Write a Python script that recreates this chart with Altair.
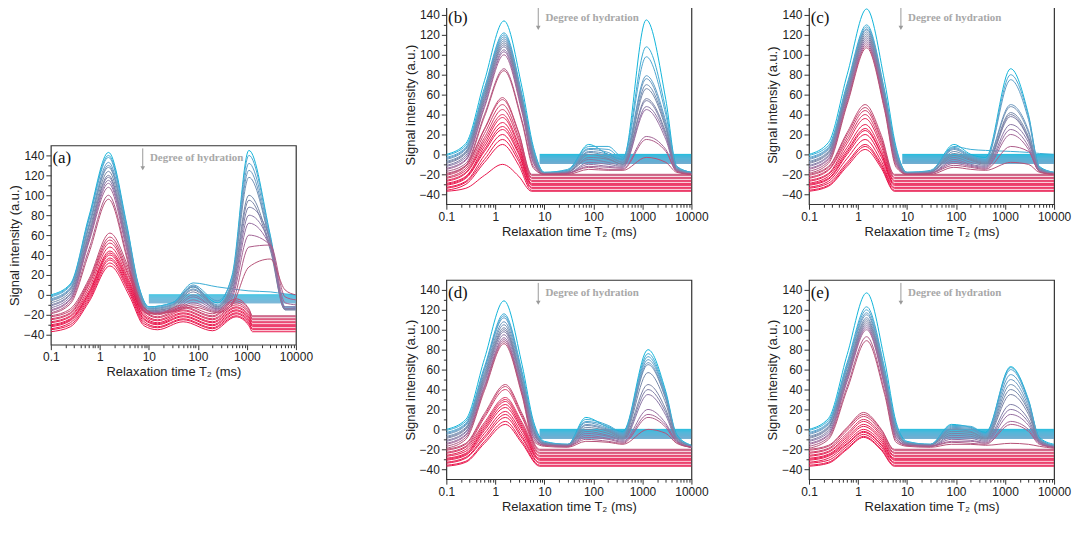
import altair as alt
import pandas as pd

CYAN, BLUEGREY, MAUVE, RED = "#12b5da", "#7886a3", "#b65277", "#e8154b"

# ---- panel (a) ----
T2_UP_A = [0.1, 0.25, 0.6, 1.5, 3.5, 6, 10, 30, 80, 250, 500, 1100, 3000, 6000, 10000]
UP_A = [
    [0, 11, 79, 143, 72, 12, -12, -8, 8, -8, 20, 145, 60, -12, -12],
    [-1, 10, 77, 140, 70, 11, -12, -8, 12, 8, 6, 4, 3, 1, 0],
    [-2, 9, 75, 138, 68, 10, -13, -9, 10, -6, 18, 140, 58, -13, -13],
    [-4, 7, 71, 133, 65, 8, -14, -10, 6, -10, 15, 132, 55, -14, -14],
    [-5, 6, 69, 130, 63, 7, -14, -10, 9, -11, 14, 125, 52, -14, -14],
    [-6, 5, 68, 128, 62, 6, -15, -11, 8, -12, 12, 118, 52, -14, -14],
    [-8, 3, 64, 124, 58, 4, -16, -12, 5, -12, 10, 100, 48, -15, -15],
    [-10, 1, 61, 120, 55, 2, -16, -13, 3, -13, 8, 95, 45, -15, -15],
    [-11, 0, 60, 118, 54, 1, -17, -14, 0, -14, 5, 88, 55, -14, -14],
    [-13, -2, 57, 115, 51, -1, -17, -15, -2, -14, 3, 80, 50, -14, -13],
    [-15, -4, 55, 112, 49, -3, -18, -16, -5, -15, 0, 72, 48, -12, -12],
    [-16, -5, 53, 108, 46, -5, -18, -16, -8, -16, -3, 60, 50, -8, -10],
    [-18, -7, 46, 100, 41, -7, -19, -17, -10, -17, -8, 48, 50, -2, -5],
    [-19, -9, 42, 96, 38, -9, -19, -17, -12, -18, -10, 28, 36, 5, 0],
]
T2_LOW_A = [0.1, 0.25, 0.6, 1.6, 4, 8, 15, 50, 200, 600, 1100, 1300, 10000]
LOW_A = [
    [-21, -14, 16, 62, 25, -13, -19, -10, -19, -4, -14, -21, -21],
    [-22, -16, 14, 58, 22, -14, -20, -12, -21, -6, -15, -22, -22],
    [-24, -18, 12, 55, 19, -16, -22, -13, -22, -8, -17, -24, -24],
    [-25, -19, 10, 52, 17, -17, -23, -15, -24, -10, -18, -25, -25],
    [-27, -21, 7, 48, 14, -19, -25, -16, -25, -12, -20, -27, -27],
    [-28, -22, 4, 44, 12, -21, -26, -18, -27, -13, -22, -28, -28],
    [-30, -24, 2, 42, 10, -22, -28, -19, -28, -15, -23, -30, -30],
    [-31, -25, 1, 40, 8, -24, -29, -21, -30, -16, -25, -31, -31],
    [-32, -26, -1, 37, 6, -25, -30, -22, -31, -18, -26, -32, -32],
    [-34, -28, -3, 35, 4, -27, -32, -24, -33, -19, -28, -34, -34],
    [-35, -30, -5, 32, 2, -29, -33, -25, -34, -21, -29, -35, -35],
    [-37, -32, -7, 29, -1, -31, -35, -27, -36, -22, -31, -37, -37],
]
T2_FLAT_A = [10, 10000]
FLAT_A = [0, -1, -2, -3, -4, -5, -6, -7, -8]

# ---- panel (b) ----
T2_UP_B = [0.1, 0.25, 0.6, 1.5, 3.5, 6, 10, 30, 80, 200, 400, 1200, 3000, 5000, 10000]
UP_B = [
    [0, 11, 74, 134, 67, 7, -18, -16, 10, 0, -5, 135, 55, -12, -18],
    [-1, 9, 67, 122, 60, 5, -18, -15, 8, 8, -3, 108, 45, -12, -18],
    [-3, 7, 65, 120, 58, 3, -19, -16, 6, 5, -5, 98, 40, -13, -18],
    [-4, 6, 63, 118, 57, 2, -19, -17, 5, 2, -6, 79, 33, -13, -19],
    [-5, 5, 62, 116, 55, 1, -19, -17, 3, 0, -8, 76, 30, -14, -19],
    [-7, 3, 60, 114, 53, -1, -19, -18, 2, -2, -8, 70, 28, -14, -19],
    [-8, 2, 58, 112, 52, -2, -19, -18, 0, -4, -10, 66, 26, -15, -19],
    [-9, 1, 56, 110, 50, -3, -20, -18, -3, -5, -10, 56, 22, -15, -20],
    [-11, -1, 54, 108, 48, -5, -20, -18, -5, -8, -11, 54, 20, -16, -20],
    [-12, -3, 52, 105, 46, -6, -20, -19, -8, -10, -12, 48, 18, -16, -20],
    [-14, -5, 49, 103, 44, -8, -20, -19, -10, -12, -13, 45, 15, -16, -20],
    [-15, -6, 47, 100, 42, -9, -20, -19, -12, -13, -14, 18, 5, -17, -20],
    [-17, -9, 40, 86, 34, -12, -20, -19, -13, -15, -15, 15, 3, -17, -20],
    [-19, -11, 38, 84, 32, -14, -20, -20, -15, -16, -16, -3, -8, -18, -20],
]
T2_LOW_B = [0.1, 0.25, 0.6, 1.4, 3, 5.5, 10000]
LOW_B = [
    [-20, -11, 26, 57, 22, -20, -20],
    [-21, -12, 25, 55, 21, -21, -21],
    [-23, -14, 21, 50, 17, -23, -23],
    [-24, -16, 17, 45, 14, -24, -24],
    [-26, -18, 14, 40, 10, -26, -26],
    [-27, -19, 11, 37, 8, -27, -27],
    [-29, -22, 8, 32, 5, -29, -29],
    [-30, -23, 5, 28, 2, -30, -30],
    [-31, -24, 3, 25, 0, -31, -31],
    [-33, -27, -1, 20, -4, -33, -33],
    [-34, -28, -5, 15, -7, -34, -34],
    [-36, -30, -8, 10, -11, -36, -36],
    [-37, -34, -21, -10, -22, -37, -37],
]
T2_FLAT_B = [8, 10000]
FLAT_B = [0, -1, -2, -3, -4, -5, -6, -7, -8, -9]

# ---- panel (c) ----
T2_UP_C = [0.1, 0.25, 0.6, 1.5, 3.5, 6, 10, 30, 90, 200, 400, 1300, 3000, 5000, 10000]
UP_C = [
    [0, 12, 80, 146, 73, 7, -18, -17, 10, 0, -3, 86, 40, -12, -18],
    [-1, 9, 71, 130, 64, 5, -18, -16, 8, 5, 4, 3, 2, 1, 0],
    [-3, 7, 69, 128, 62, 3, -18, -17, 7, -1, -5, 80, 38, -13, -18],
    [-4, 6, 68, 126, 61, 2, -19, -17, 6, -2, -6, 75, 35, -13, -19],
    [-5, 5, 66, 125, 60, 1, -19, -17, 5, -3, -7, 50, 24, -14, -19],
    [-7, 3, 65, 123, 58, -1, -19, -18, 3, -4, -8, 48, 22, -14, -19],
    [-8, 2, 63, 121, 56, -2, -19, -18, 1, -5, -9, 42, 18, -15, -19],
    [-9, 1, 61, 119, 55, -3, -20, -18, -1, -6, -10, 40, 16, -15, -20],
    [-11, -1, 60, 117, 53, -5, -20, -18, -3, -8, -11, 38, 15, -16, -20],
    [-12, -2, 58, 115, 51, -6, -20, -19, -5, -10, -12, 30, 12, -16, -20],
    [-14, -4, 56, 113, 49, -8, -20, -19, -7, -11, -13, 25, 8, -17, -20],
    [-15, -5, 54, 111, 48, -9, -20, -19, -9, -12, -14, 20, 5, -17, -20],
    [-17, -7, 52, 109, 46, -11, -20, -19, -11, -13, -15, 8, 3, -17, -20],
    [-19, -9, 50, 107, 44, -13, -20, -20, -13, -15, -16, -8, -10, -18, -20],
]
T2_LOW_C = [0.1, 0.25, 0.6, 1.4, 3, 5.5, 10000]
LOW_C = [
    [-20, -12, 22, 50, 19, -20, -20],
    [-21, -13, 20, 47, 16, -21, -21],
    [-23, -15, 17, 44, 14, -23, -23],
    [-24, -16, 14, 40, 11, -24, -24],
    [-26, -19, 11, 36, 8, -26, -26],
    [-27, -20, 7, 30, 4, -27, -27],
    [-29, -22, 4, 26, 1, -29, -29],
    [-30, -24, 2, 24, 0, -30, -30],
    [-31, -25, 0, 20, -3, -31, -31],
    [-33, -27, -4, 15, -7, -33, -33],
    [-34, -29, -8, 10, -10, -34, -34],
    [-36, -31, -10, 8, -12, -36, -36],
    [-37, -32, -12, 5, -14, -37, -37],
]
T2_FLAT_C = [8, 10000]
FLAT_C = [0, -1, -2, -3, -4, -5, -6, -7, -8, -9]

# ---- panel (d) ----
T2_UP_D = [0.1, 0.25, 0.6, 1.5, 3.5, 6, 10, 30, 70, 200, 400, 1300, 3000, 5000, 10000]
UP_D = [
    [0, 10, 71, 129, 65, 8, -12, -15, 12, 2, -2, 80, 38, -5, -16],
    [-1, 8, 63, 116, 58, 6, -13, -15, 10, 4, -3, 76, 36, -6, -16],
    [-3, 6, 61, 114, 56, 4, -13, -15, 8, 3, -4, 73, 34, -7, -17],
    [-4, 5, 60, 112, 54, 3, -13, -16, 7, 1, -5, 70, 33, -7, -17],
    [-5, 4, 57, 108, 52, 2, -14, -16, 5, 0, -6, 67, 31, -8, -17],
    [-7, 2, 55, 105, 49, 0, -14, -16, 4, -1, -7, 65, 30, -8, -17],
    [-8, 1, 53, 102, 47, -1, -14, -16, 2, -2, -8, 57, 26, -9, -17],
    [-9, 0, 51, 100, 46, -2, -15, -16, 0, -4, -9, 45, 20, -10, -18],
    [-11, -2, 49, 98, 44, -4, -15, -17, -2, -6, -10, 40, 17, -10, -18],
    [-12, -3, 47, 95, 42, -5, -15, -17, -4, -7, -11, 35, 14, -11, -18],
    [-14, -5, 44, 92, 39, -7, -16, -17, -6, -9, -12, 20, 6, -12, -18],
    [-15, -6, 43, 90, 38, -8, -16, -17, -8, -10, -13, 15, 4, -12, -18],
    [-17, -8, 41, 88, 36, -10, -16, -17, -10, -12, -14, 12, 2, -13, -18],
    [-19, -10, 39, 86, 34, -12, -17, -18, -12, -13, -15, 0, -4, -14, -18],
]
T2_LOW_D = [0.1, 0.25, 0.6, 1.6, 3.5, 8, 10000]
LOW_D = [
    [-20, -14, 16, 45, 16, -20, -20],
    [-21, -15, 14, 43, 14, -21, -21],
    [-23, -17, 12, 40, 12, -23, -23],
    [-24, -18, 7, 32, 7, -24, -24],
    [-26, -20, 5, 30, 5, -26, -26],
    [-27, -22, 3, 28, 3, -27, -27],
    [-29, -24, 1, 25, 1, -29, -29],
    [-30, -25, -1, 22, -1, -30, -30],
    [-31, -26, -4, 18, -4, -31, -31],
    [-33, -28, -7, 15, -7, -33, -33],
    [-34, -29, -9, 12, -9, -34, -34],
    [-36, -32, -12, 8, -12, -36, -36],
    [-37, -33, -14, 5, -14, -37, -37],
]
T2_FLAT_D = [8, 10000]
FLAT_D = [0, -1, -2, -3, -4, -5, -6, -7, -8, -9]

# ---- panel (e) ----
T2_UP_E = [0.1, 0.25, 0.6, 1.5, 3.5, 6, 10, 30, 80, 200, 400, 1300, 3000, 5000, 10000]
UP_E = [
    [0, 11, 75, 137, 69, 7, -12, -15, 5, 2, -3, 63, 30, -8, -15],
    [-1, 9, 67, 123, 61, 5, -13, -15, 4, 3, -4, 62, 29, -9, -16],
    [-3, 7, 65, 120, 59, 3, -13, -15, 3, 2, -5, 60, 28, -9, -16],
    [-4, 6, 63, 117, 57, 2, -13, -16, 2, 1, -6, 55, 26, -10, -17],
    [-5, 5, 61, 115, 55, 1, -14, -16, 1, 0, -7, 50, 23, -10, -17],
    [-7, 3, 58, 112, 53, -1, -14, -16, 0, -2, -8, 45, 20, -11, -17],
    [-8, 2, 57, 110, 51, -2, -14, -16, -2, -3, -9, 40, 18, -11, -17],
    [-9, 1, 55, 108, 50, -3, -15, -16, -4, -5, -10, 35, 15, -12, -18],
    [-11, -1, 53, 106, 48, -5, -15, -17, -6, -7, -11, 25, 10, -12, -18],
    [-12, -3, 52, 104, 46, -6, -15, -17, -8, -9, -12, 20, 7, -13, -18],
    [-14, -5, 50, 102, 44, -8, -16, -17, -10, -11, -13, 15, 4, -13, -18],
    [-15, -6, 48, 100, 43, -9, -16, -17, -12, -12, -14, 8, 0, -14, -18],
    [-17, -8, 43, 93, 38, -11, -16, -17, -13, -14, -15, 5, -2, -15, -18],
    [-19, -10, 40, 89, 35, -13, -17, -18, -15, -15, -16, -14, -15, -17, -19],
]
T2_LOW_E = [0.1, 0.25, 0.6, 1.3, 3, 5.5, 10000]
LOW_E = [
    [-20, -16, 2, 17, 0, -20, -20],
    [-21, -17, 1, 15, -1, -21, -21],
    [-23, -19, -1, 13, -3, -23, -23],
    [-24, -20, -4, 10, -5, -24, -24],
    [-26, -22, -6, 8, -7, -26, -26],
    [-27, -23, -8, 5, -9, -27, -27],
    [-29, -25, -10, 3, -11, -29, -29],
    [-30, -26, -12, 0, -13, -30, -30],
    [-31, -27, -14, -2, -15, -31, -31],
    [-33, -29, -15, -3, -16, -33, -33],
    [-34, -31, -17, -5, -18, -34, -34],
    [-36, -33, -19, -7, -20, -36, -36],
    [-37, -34, -20, -8, -21, -37, -37],
]
T2_FLAT_E = [7, 10000]
FLAT_E = [0, -1, -2, -3, -4, -5, -6, -7, -8, -9]

X_TICKS = [m * 10.0 ** e for e in range(-1, 4) for m in range(1, 10)] + [10000]
Y_TICKS = list(range(-40, 141, 10))
X_MAJOR = "abs(log(datum.value) / LN10 - round(log(datum.value) / LN10)) < 0.001"
Y_MAJOR = "datum.value % 20 == 0"

W, H = 246, 200


def build(t2_up, up, t2_low, low, t2_flat, flat):
    rows = []
    for m, b in enumerate(flat):
        for t in t2_flat:
            rows.append({"t": t, "s": b, "k": m, "c": m * 0.3})
    for i, ys in enumerate(up):
        for t, s in zip(t2_up, ys):
            rows.append({"t": t, "s": s, "k": 100 + i, "c": i})
    for j, ys in enumerate(low):
        for t, s in zip(t2_low, ys):
            rows.append({"t": t, "s": s, "k": 200 + j, "c": len(up) + j})
    return pd.DataFrame(rows)


def panel(t2_up, up, t2_low, low, t2_flat, flat, tag, ytitle):
    df = build(t2_up, up, t2_low, low, t2_flat, flat)
    xs = alt.Scale(type="log", domain=[0.1, 10000], nice=False)
    ys = alt.Scale(domain=[-50, 150], nice=False, zero=False)
    x_axis = alt.Axis(
        values=X_TICKS, format="~g", labelExpr=f"{X_MAJOR} ? datum.label : ''",
        tickSize={"condition": {"test": X_MAJOR, "value": 5}, "value": 3},
        labelFlush=False, labelOverlap=False, labelPadding=2, titlePadding=3,
        title="Relaxation time T\u2082 (ms)")
    y_axis = alt.Axis(
        values=Y_TICKS, labelExpr=f"{Y_MAJOR} ? datum.label : ''",
        tickSize={"condition": {"test": Y_MAJOR, "value": 5}, "value": 3},
        labelOverlap=False, labelPadding=2, titlePadding=2, title=ytitle)
    X = alt.X("t:Q", scale=xs, axis=x_axis)
    Y = alt.Y("s:Q", scale=ys, axis=y_axis)
    n_up, n = len(up), len(up) + len(low)
    lines = alt.Chart(df).mark_line(interpolate="monotone", strokeWidth=1, clip=True).encode(
        x=X, y=Y,
        color=alt.Color("c:Q", scale=alt.Scale(domain=[0, n_up - 1, n_up, n_up + 4, n - 1],
                                               range=[CYAN, BLUEGREY, MAUVE, RED, RED]),
                        legend=None),
        detail="k:O",
    )
    arrow_df = pd.DataFrame({"t": [7.5], "s": [147], "s2": [127]})
    arrow = alt.Chart(arrow_df).mark_rule(color="#9a9a9a", strokeWidth=1).encode(x=X, y=Y, y2="s2:Q")
    head = alt.Chart(arrow_df).mark_point(shape="triangle-down", filled=True, size=22,
                                          color="#9a9a9a", opacity=1).encode(
        x=X, y=alt.Y("s2:Q", scale=ys, axis=y_axis))
    note = alt.Chart(pd.DataFrame({"t": [10.5], "s": [137], "l": ["Degree of hydration"]})).mark_text(
        align="left", baseline="middle", font="Liberation Serif", fontWeight="bold",
        fontSize=11, color="#a8a8a8").encode(x=X, y=Y, text="l:N")
    lab = alt.Chart(pd.DataFrame({"t": [0.108], "s": [137], "l": [tag]})).mark_text(
        align="left", baseline="middle", font="Liberation Serif", fontSize=17,
        color="#111111").encode(x=X, y=Y, text="l:N")
    return alt.layer(lines, arrow, head, note, lab).properties(width=W, height=H)


pa = panel(T2_UP_A, UP_A, T2_LOW_A, LOW_A, T2_FLAT_A, FLAT_A, "(a)", "Signal intensity (a.u.)")
pb = panel(T2_UP_B, UP_B, T2_LOW_B, LOW_B, T2_FLAT_B, FLAT_B, "(b)", "Signal intensity (a.u.)")
pc = panel(T2_UP_C, UP_C, T2_LOW_C, LOW_C, T2_FLAT_C, FLAT_C, "(c)", "Signal intensiy (a.u.)")
pd_ = panel(T2_UP_D, UP_D, T2_LOW_D, LOW_D, T2_FLAT_D, FLAT_D, "(d)", "Signal intensity (a.u.)")
pe = panel(T2_UP_E, UP_E, T2_LOW_E, LOW_E, T2_FLAT_E, FLAT_E, "(e)", "Signal intensity (a.u.)")

spacer = alt.Chart(pd.DataFrame({"l": [""]})).mark_text().encode(text="l:N").properties(
    width=W, height=140, view=alt.ViewBackground(strokeOpacity=0))

col_a = alt.vconcat(spacer, pa, spacing=0)
right = alt.vconcat(alt.hconcat(pb, pc, spacing=57), alt.hconcat(pd_, pe, spacing=57), spacing=40)

chart = (
    alt.hconcat(col_a, right, spacing=90)
    .properties(padding={"top": -5, "left": 0, "right": 0, "bottom": 0})
    .configure_view(stroke="#333333", strokeWidth=1.2)
    .configure_axis(labelFont="Liberation Sans", titleFont="Liberation Sans", labelFontSize=12,
                    titleFontSize=13, titleFontWeight="normal", labelColor="#222222",
                    titleColor="#222222", tickColor="#333333", domain=False, grid=False)
)

chart.save("out.html", embed_options={"renderer": "svg", "actions": False})
